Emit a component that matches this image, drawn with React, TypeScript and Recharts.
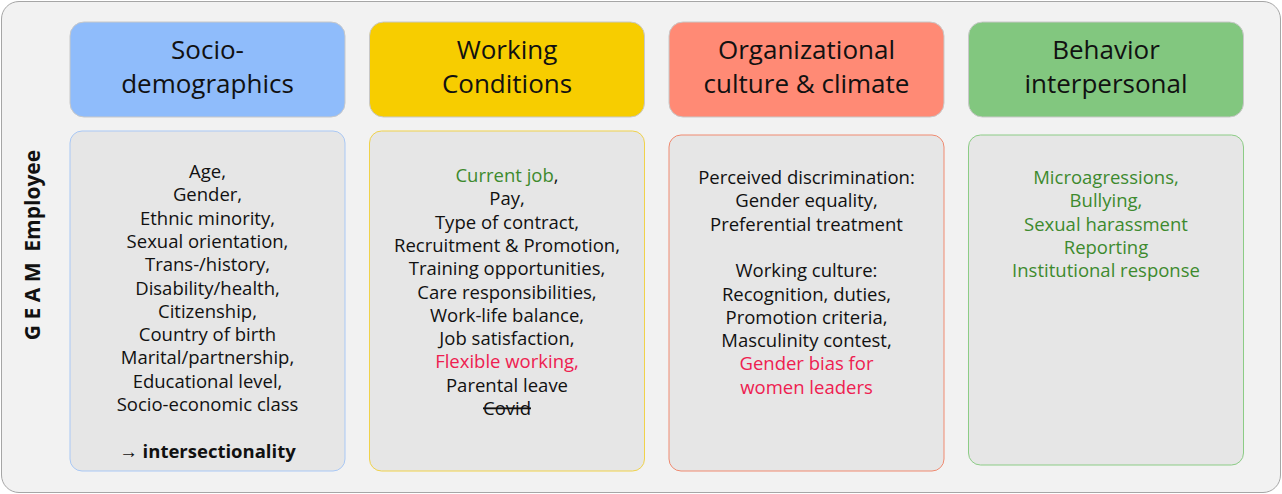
import React from 'react';
import { BarChart, Bar, XAxis, YAxis } from 'recharts';

const columns = ['Socio-demographics', 'Working Conditions', 'Organizational culture & climate', 'Behavior interpersonal'];
const headerLines = [['Socio-', 'demographics'], ['Working', 'Conditions'], ['Organizational', 'culture & climate'], ['Behavior', 'interpersonal']];
const headerColors = ['#8fbcfb', '#f7cd00', '#ff8a75', '#82c77f'];
const bodyBorders = ['#a9c8f5', '#f0d24a', '#f08a70', '#8ccc86'];
const topOffset = [22, 22, 22, 22];
const headerSize = [95, 95, 95, 95];
const gapSize = [14, 14, 18, 18];
const bodySize = [340, 340, 336, 330];
const textStart = [178, 182, 184, 184];

type Line = { t: string; c?: string; b?: boolean; s?: boolean; tail?: string };
const G = '#3d8a2e';
const R = '#ee2050';
const bodyLines: Line[][] = [
  [
    { t: 'Age,' }, { t: 'Gender,' }, { t: 'Ethnic minority,' }, { t: 'Sexual orientation,' },
    { t: 'Trans-/history,' }, { t: 'Disability/health,' }, { t: 'Citizenship,' }, { t: 'Country of birth' },
    { t: 'Marital/partnership,' }, { t: 'Educational level,' }, { t: 'Socio-economic class' }, { t: '' },
    { t: '→ intersectionality', b: true },
  ],
  [
    { t: 'Current job', c: G, tail: ',' }, { t: 'Pay,' }, { t: 'Type of contract,' }, { t: 'Recruitment & Promotion,' },
    { t: 'Training opportunities,' }, { t: 'Care responsibilities,' }, { t: 'Work-life balance,' },
    { t: 'Job satisfaction,' }, { t: 'Flexible working,', c: R }, { t: 'Parental leave' }, { t: 'Covid', s: true },
  ],
  [
    { t: 'Perceived discrimination:' }, { t: 'Gender equality,' }, { t: 'Preferential treatment' }, { t: '' },
    { t: 'Working culture:' }, { t: 'Recognition, duties,' }, { t: 'Promotion criteria,' },
    { t: 'Masculinity contest,' }, { t: 'Gender bias for', c: R }, { t: 'women leaders', c: R },
  ],
  [
    { t: 'Microagressions,', c: G }, { t: 'Bullying,', c: G }, { t: 'Sexual harassment', c: G },
    { t: 'Reporting', c: G }, { t: 'Institutional response', c: G },
  ],
];

const data = columns.map((name, i) => ({
  name, idx: i, top: topOffset[i], header: headerSize[i], gap: gapSize[i], body: bodySize[i],
}));

const FONT = 'Open Sans, Liberation Sans, sans-serif';

const HeaderShape = (p: any) => {
  const i = p.payload.idx;
  const top = Math.min(p.y, p.y + p.height);
  const h = Math.abs(p.height);
  const cx = p.x + p.width / 2;
  return (
    <g>
      <rect x={p.x} y={top} width={p.width} height={h} rx={14} fill={headerColors[i]} stroke="#c8c8c8" />
      {headerLines[i].map((l, k) => (
        <text key={k} x={cx} y={top + 37 + k * 34} textAnchor="middle" fontSize={26} fontFamily={FONT} fill="#111">{l}</text>
      ))}
    </g>
  );
};

const BodyShape = (p: any) => {
  const i = p.payload.idx;
  const top = Math.min(p.y, p.y + p.height);
  const h = Math.abs(p.height);
  const cx = p.x + p.width / 2;
  return (
    <g>
      <rect x={p.x} y={top} width={p.width} height={h} rx={12} fill="#e6e6e6" stroke={bodyBorders[i]} />
      {bodyLines[i].map((l, k) => (
        <text key={k} x={cx} y={textStart[i] + k * 23.3} textAnchor="middle" fontSize={18.5} fontFamily={FONT}
          fill={l.c || '#111'} fontWeight={l.b ? 'bold' : 'normal'} textDecoration={l.s ? 'line-through' : undefined}>
          {l.t}{l.tail ? <tspan fill="#111">{l.tail}</tspan> : null}
        </text>
      ))}
    </g>
  );
};

export default function App() {
  return (
    <div style={{ position: 'absolute', left: 0, top: 0, width: 1282, height: 494 }}>
      <div style={{ position: 'absolute', left: 1, top: 1, width: 1278, height: 490, background: '#f2f2f2', border: '1px solid #a6a6a6', borderRadius: 18 }} />
      <div style={{ position: 'absolute', left: 32, top: 245, transform: 'translate(-50%,-50%) rotate(-90deg)', whiteSpace: 'nowrap', fontFamily: FONT, fontWeight: 'bold', fontSize: 21, color: '#111' }}>
        G E A M&nbsp;&nbsp;Employee
      </div>
      <div style={{ position: 'absolute', left: 0, top: 0 }}>
        <BarChart width={1282} height={494} data={data} margin={{ top: 0, right: 26, bottom: 0, left: 58 }} barSize={275}>
          <XAxis dataKey="name" hide />
          <YAxis hide reversed domain={[0, 494]} type="number" allowDataOverflow />
          <Bar dataKey="top" stackId="a" fill="transparent" isAnimationActive={false} />
          <Bar dataKey="header" stackId="a" shape={HeaderShape} isAnimationActive={false} />
          <Bar dataKey="gap" stackId="a" fill="transparent" isAnimationActive={false} />
          <Bar dataKey="body" stackId="a" shape={BodyShape} isAnimationActive={false} />
        </BarChart>
      </div>
    </div>
  );
}
